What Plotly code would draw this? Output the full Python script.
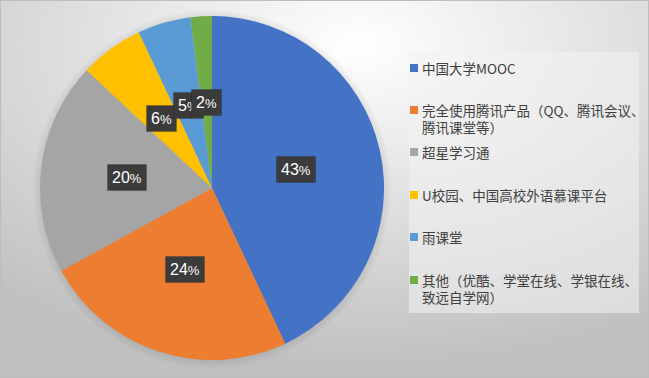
import base64
import numpy as np
import plotly.graph_objects as go

categories = ["中国大学MOOC", "完全使用腾讯产品（QQ、腾讯会议、<br>腾讯课堂等）", "超星学习通",
              "U校园、中国高校外语慕课平台", "雨课堂", "其他（优酷、学堂在线、学银在线、<br>致远自学网）"]
values = [43, 24, 20, 6, 5, 2]
colors = ["#4472C4", "#ED7D31", "#A5A5A5", "#FFC000", "#5B9BD5", "#70AD47"]

W, H = 649, 378
cx_px, cy_px, R = 212, 188, 172

svg = f'''<svg xmlns="http://www.w3.org/2000/svg" width="{W}" height="{H}" viewBox="0 0 {W} {H}">
<defs><radialGradient id="g" cx="0.55" cy="0.12" r="0.85" fx="0.55" fy="0.12">
<stop offset="0" stop-color="#ffffff"/><stop offset="0.5" stop-color="#e0e0e0"/><stop offset="1" stop-color="#c0c0c0"/>
</radialGradient>
<radialGradient id="s" cx="0.5" cy="0.5" r="0.5">
<stop offset="0.9" stop-color="#000" stop-opacity="0.18"/><stop offset="1" stop-color="#000" stop-opacity="0"/>
</radialGradient></defs>
<rect width="{W}" height="{H}" fill="url(#g)"/>
<circle cx="{cx_px}" cy="{cy_px + 1}" r="{R + 8}" fill="url(#s)"/>
<rect x="0.5" y="0.5" width="{W-1}" height="{H-1}" fill="none" stroke="#bdbdbd" stroke-width="1"/>
</svg>'''
bg_src = "data:image/svg+xml;base64," + base64.b64encode(svg.encode()).decode()

fig = go.Figure()
fig.add_trace(go.Pie(
    labels=categories, values=values, sort=False, direction="clockwise", rotation=0,
    marker=dict(colors=colors, line=dict(width=0)), textinfo="none", hoverinfo="label+percent",
    domain=dict(x=[(cx_px - R) / W, (cx_px + R) / W], y=[1 - (cy_px + R) / H, 1 - (cy_px - R) / H]),
    showlegend=False,
))

# data labels at half radius, computed from slice mid-angles
vals = np.array(values, dtype=float)
frac = vals / vals.sum()
mid = (np.cumsum(frac) - frac / 2) * 2 * np.pi
r_lab = 0.5 * R
annotations = []
for f, a in zip(frac, mid):
    x = (cx_px + r_lab * np.sin(a)) / W
    y = 1 - (cy_px - r_lab * np.cos(a)) / H
    txt = f"{round(f * 100):d}<span style='font-size:13px'>%</span>"
    annotations.append(dict(x=x, y=y, xref="paper", yref="paper", text=txt, showarrow=False,
                            xanchor="center", yanchor="middle", borderpad=4,
                            font=dict(color="white", size=16, family="Liberation Sans"),
                            bgcolor="#3b3b3b", bordercolor="rgba(0,0,0,0.15)", borderwidth=1))

# manual legend
shapes = [dict(type="rect", xref="paper", yref="paper", x0=409 / W, x1=639 / W, y0=1 - 313 / H, y1=1 - 52 / H,
               fillcolor="rgba(242,242,242,0.55)", line=dict(width=0), layer="below")]
item_y = [68, 110, 152, 195, 237, 280]
line_gap = 17
for cat, col, yy in zip(categories, colors, item_y):
    shapes.append(dict(type="rect", xref="paper", yref="paper", x0=410 / W, x1=418 / W,
                       y0=1 - (yy + 4) / H, y1=1 - (yy - 4) / H, fillcolor=col, line=dict(width=0)))
    for k, line in enumerate(cat.split("<br>")):
        annotations.append(dict(x=420 / W, y=1 - (yy + k * line_gap) / H, xref="paper", yref="paper",
                                text=line, showarrow=False, xanchor="left", yanchor="middle", align="left",
                                font=dict(size=13.5, color="#404040", family="Noto Sans CJK SC")))

fig.update_layout(
    width=W, height=H, margin=dict(l=0, r=0, t=0, b=0),
    paper_bgcolor="#dcdcdc", plot_bgcolor="rgba(0,0,0,0)",
    images=[dict(source=bg_src, xref="paper", yref="paper", x=0, y=1, sizex=1, sizey=1,
                 xanchor="left", yanchor="top", sizing="stretch", layer="below")],
    shapes=shapes, annotations=annotations, showlegend=False,
)
fig.write_html("out.html")
